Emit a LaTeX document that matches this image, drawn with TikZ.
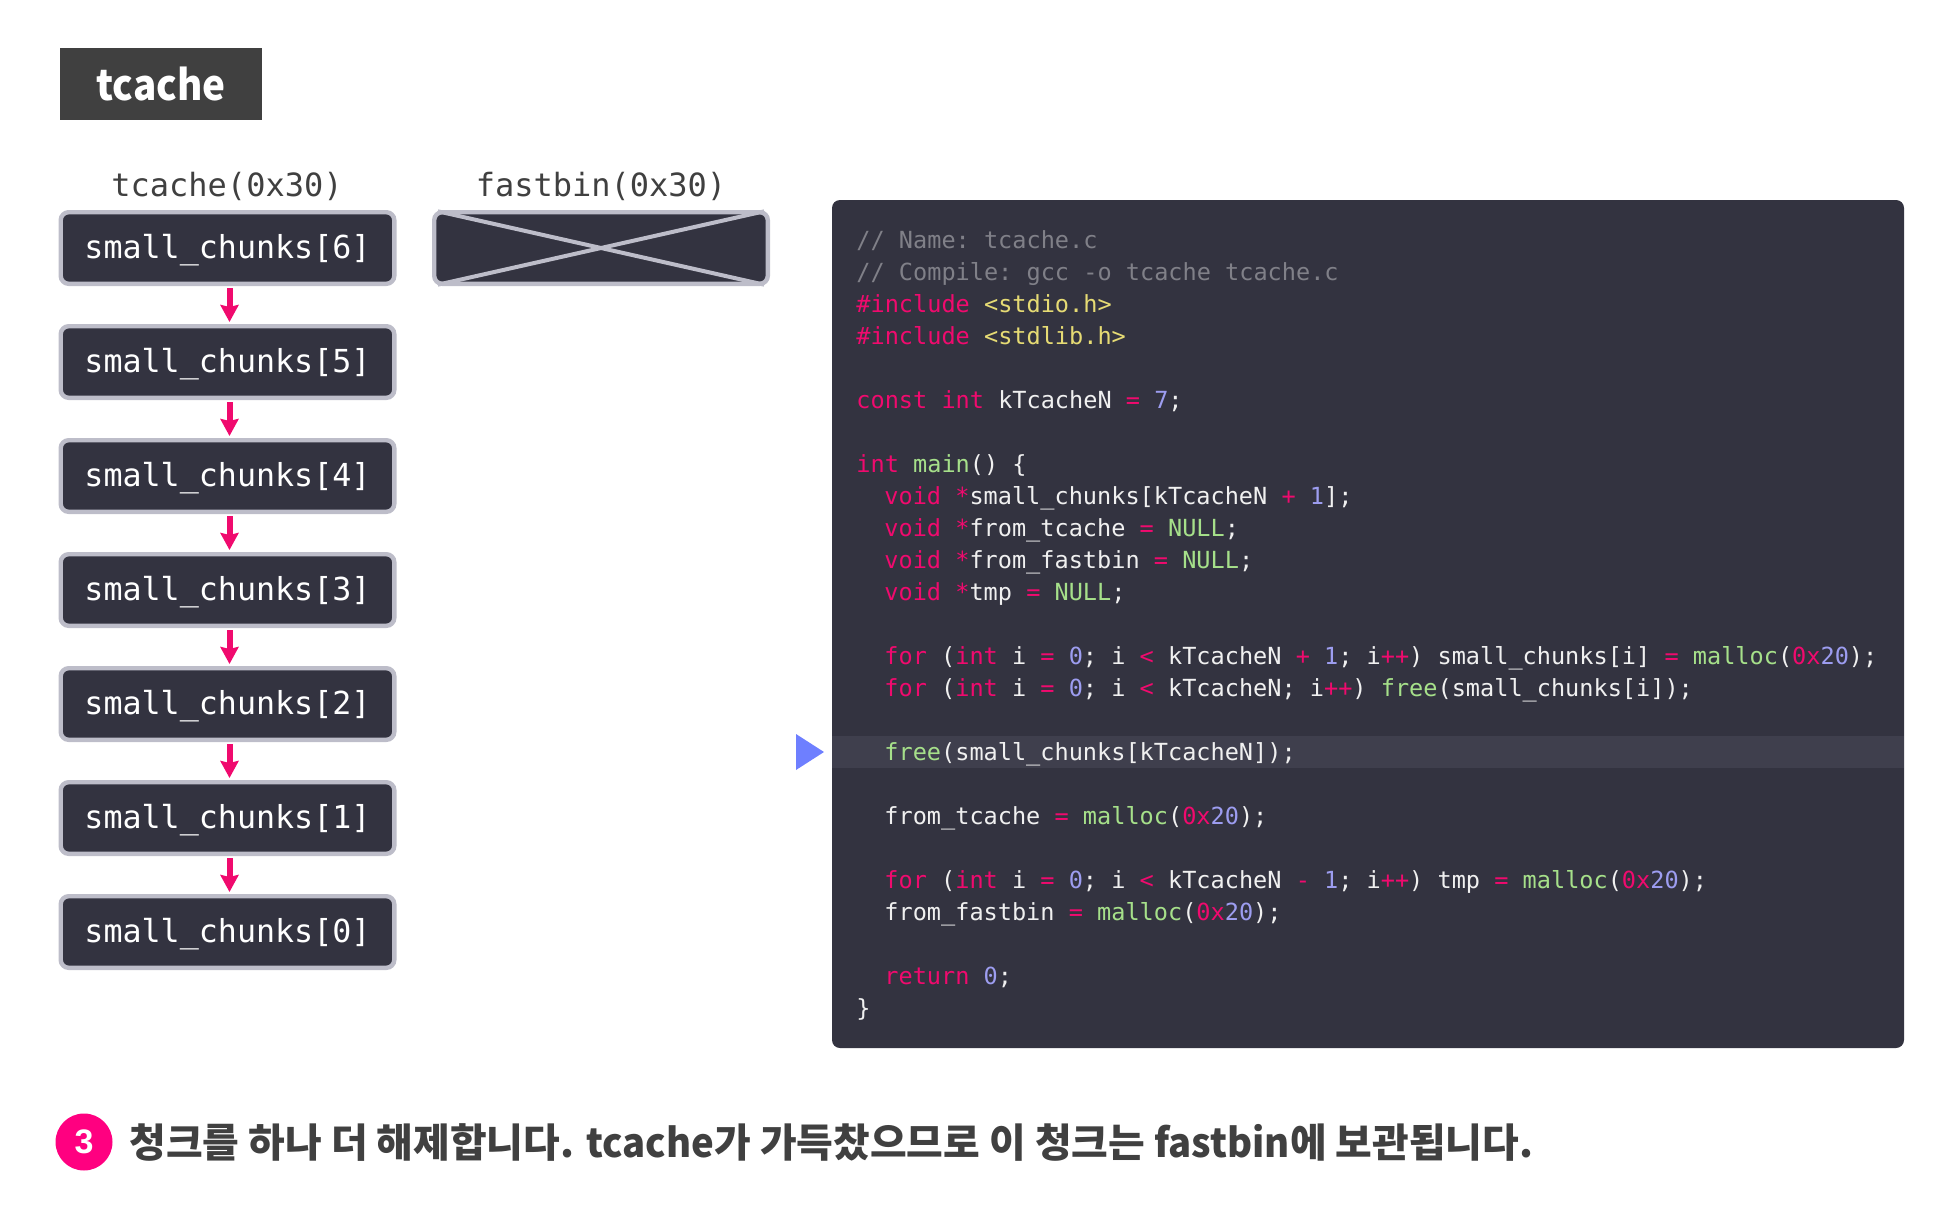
\documentclass[tikz,border=0pt]{standalone}
\usepackage{fontspec}
\setmonofont{DejaVu Sans Mono}
\newfontfamily\krfont{Noto Sans CJK KR}
\newfontfamily\numfont{Liberation Sans}
\usetikzlibrary{arrows.meta,positioning,calc}
\definecolor{panelbg}{RGB}{51,51,64}
\definecolor{rowhl}{RGB}{63,63,77}
\definecolor{boxedge}{RGB}{189,189,201}
\definecolor{accent}{RGB}{240,10,110}
\definecolor{badge}{RGB}{255,0,128}
\definecolor{titlebg}{RGB}{64,64,64}
\definecolor{inktext}{RGB}{64,64,64}
\definecolor{cursor}{RGB}{110,127,255}
\definecolor{cmtgray}{RGB}{128,128,136}
\definecolor{strcol}{RGB}{230,219,116}
\definecolor{numcol}{RGB}{157,157,240}
\definecolor{fncol}{RGB}{166,224,138}
\newcommand{\kw}[1]{\textcolor{accent}{#1}}
\newcommand{\fnc}[1]{\textcolor{fncol}{#1}}
\newcommand{\nmb}[1]{\textcolor{numcol}{#1}}
\newcommand{\cstr}[1]{\textcolor{strcol}{#1}}
\newcommand{\hexv}{\kw{0x}\nmb{20}}
\newcommand{\latn}[1]{{\addfontfeature{FakeStretch=0.96}#1}}
\tikzset{
  chunkbox/.style={draw=boxedge,fill=panelbg,line width=2.2pt,rounded corners=4pt,minimum width=166.8pt,minimum height=35.8pt,inner sep=0pt,text=white,text height=13.2pt,text depth=3pt,font=\fontsize{15.84}{18}\ttfamily},
  binlabel/.style={anchor=base,inner sep=0pt,text=inktext,font=\fontsize{16}{18}\ttfamily},
  codeline/.style={anchor=base west,inner sep=0pt,text=white!94!black,font=\fontsize{11.78}{16}\ttfamily},
  chainarrow/.style={->,accent,line width=3pt,shorten >=1pt,shorten <=1pt},
}
\begin{document}
\begin{tikzpicture}[x=0.5pt,y=-0.5pt,>={Stealth[length=8.5pt,width=9pt,inset=1pt]}]
  \useasboundingbox (0,0) rectangle (1944,1220);
  % title
  \node[fill=titlebg,minimum width=101pt,minimum height=36pt,inner sep=0pt,text=white,font=\krfont\bfseries\fontsize{21}{24}\selectfont\addfontfeature{FakeStretch=0.92}] (title) at (161,84) {tcache};
  % left column
  \node[binlabel] (tcachelabel) at (227,196.5) {tcache(0x30)};
  \node[binlabel] (fastlabel) at (601,196.5) {fastbin(0x30)};
  \node[chunkbox] (s6) at (227.5,248) {small\_chunks[6]};
  \node[chunkbox] (s5) at (227.5,362) {small\_chunks[5]};
  \node[chunkbox] (s4) at (227.5,476) {small\_chunks[4]};
  \node[chunkbox] (s3) at (227.5,590) {small\_chunks[3]};
  \node[chunkbox] (s2) at (227.5,704) {small\_chunks[2]};
  \node[chunkbox] (s1) at (227.5,818) {small\_chunks[1]};
  \node[chunkbox] (s0) at (227.5,932) {small\_chunks[0]};
  \draw[chainarrow] ([xshift=1pt]s6.south) -- ([xshift=1pt]s5.north);
  \draw[chainarrow] ([xshift=1pt]s5.south) -- ([xshift=1pt]s4.north);
  \draw[chainarrow] ([xshift=1pt]s4.south) -- ([xshift=1pt]s3.north);
  \draw[chainarrow] ([xshift=1pt]s3.south) -- ([xshift=1pt]s2.north);
  \draw[chainarrow] ([xshift=1pt]s2.south) -- ([xshift=1pt]s1.north);
  \draw[chainarrow] ([xshift=1pt]s1.south) -- ([xshift=1pt]s0.north);
  % empty fastbin
  \node[chunkbox] (fast) at (601,248) {};
  \draw[boxedge,line width=2pt,shorten >=3pt,shorten <=3pt] (fast.north west) -- (fast.south east);
  \draw[boxedge,line width=2pt,shorten >=3pt,shorten <=3pt] (fast.north east) -- (fast.south west);
  % code panel
  \fill[panelbg,rounded corners=4pt] (832,200) rectangle (1904,1048);
  \fill[rowhl] (832,736) rectangle (1904,768);
  \fill[cursor] (796,734) -- (824,752) -- (796,770) -- cycle;
  \node[codeline,text=cmtgray] (c1) at (856,248) {// Name: tcache.c};
  \node[codeline,text=cmtgray] (c2) at (856,280) {// Compile: gcc -o tcache tcache.c};
  \node[codeline] (c3) at (856,312) {\kw{\#include} \cstr{<stdio.h>}};
  \node[codeline] (c4) at (856,344) {\kw{\#include} \cstr{<stdlib.h>}};
  \node[codeline] (c6) at (856,408) {\kw{const} \kw{int} kTcacheN \kw{=} \nmb{7};};
  \node[codeline] (c8) at (856,472) {\kw{int} \fnc{main}() \{};
  \node[codeline] (c9) at (884,504) {\kw{void} \kw{*}small\_chunks[kTcacheN \kw{+} \nmb{1}];};
  \node[codeline] (c10) at (884,536) {\kw{void} \kw{*}from\_tcache \kw{=} \fnc{NULL};};
  \node[codeline] (c11) at (884,568) {\kw{void} \kw{*}from\_fastbin \kw{=} \fnc{NULL};};
  \node[codeline] (c12) at (884,600) {\kw{void} \kw{*}tmp \kw{=} \fnc{NULL};};
  \node[codeline] (c14) at (884,664) {\kw{for} (\kw{int} i \kw{=} \nmb{0}; i \kw{<} kTcacheN \kw{+} \nmb{1}; i\kw{++}) small\_chunks[i] \kw{=} \fnc{malloc}(\hexv);};
  \node[codeline] (c15) at (884,696) {\kw{for} (\kw{int} i \kw{=} \nmb{0}; i \kw{<} kTcacheN; i\kw{++}) \fnc{free}(small\_chunks[i]);};
  \node[codeline] (c17) at (884,760) {\fnc{free}(small\_chunks[kTcacheN]);};
  \node[codeline] (c19) at (884,824) {from\_tcache \kw{=} \fnc{malloc}(\hexv);};
  \node[codeline] (c21) at (884,888) {\kw{for} (\kw{int} i \kw{=} \nmb{0}; i \kw{<} kTcacheN \kw{-} \nmb{1}; i\kw{++}) tmp \kw{=} \fnc{malloc}(\hexv);};
  \node[codeline] (c22) at (884,920) {from\_fastbin \kw{=} \fnc{malloc}(\hexv);};
  \node[codeline] (c24) at (884,984) {\kw{return} \nmb{0};};
  \node[codeline] (c25) at (856,1016) {\}};
  % caption
  \node[circle,fill=badge,minimum size=28.5pt,inner sep=0pt,text=white,font=\numfont\bfseries\fontsize{17}{18}\selectfont] (badge3) at (84,1142) {3};
  \node[anchor=base west,inner sep=0pt,text=inktext,font=\krfont\bfseries\fontsize{19.93}{24}\selectfont] (caption) at (129,1157.5) {청크를 하나 더 해제합니다. \latn{tcache}가 가득찼으므로 이 청크는 \latn{fastbin}에 보관됩니다.};
\end{tikzpicture}
\end{document}
